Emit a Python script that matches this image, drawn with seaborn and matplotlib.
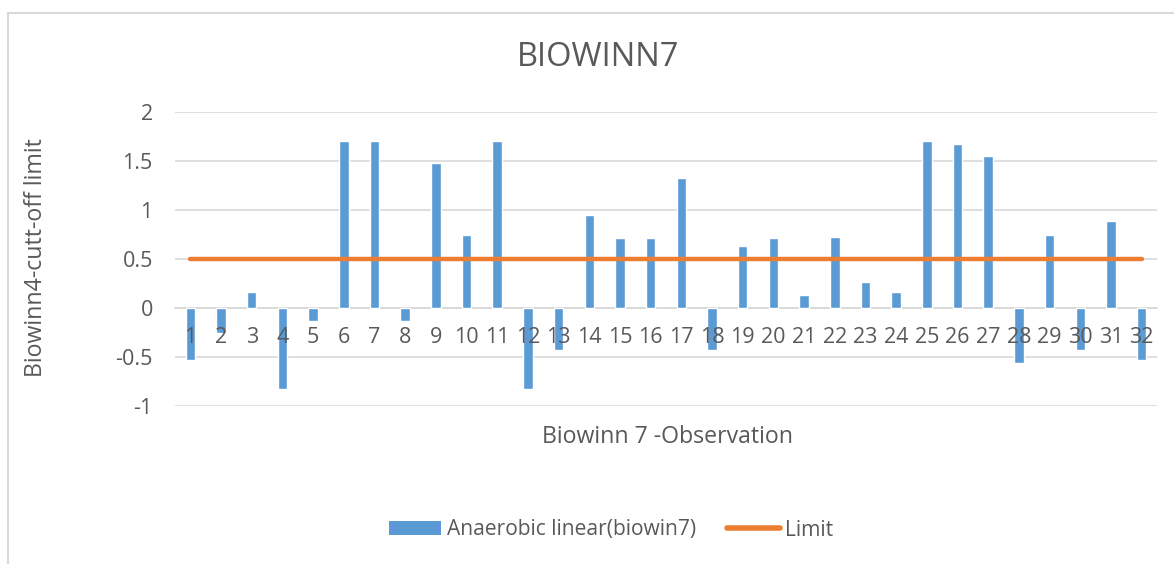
import matplotlib
matplotlib.use("Agg")
import matplotlib.pyplot as plt
from matplotlib.lines import Line2D
from matplotlib.patches import Patch
import numpy as np
import pandas as pd
import seaborn as sns

# Observations and their anaerobic linear (BIOWIN7) scores
observations = [str(i) for i in range(1, 33)]
biowin7 = [-0.53, -0.26, 0.16, -0.83, -0.13, 1.70, 1.70, -0.13, 1.48, 0.74,
           1.70, -0.83, -0.43, 0.95, 0.71, 0.71, 1.33, -0.43, 0.63, 0.71,
           0.13, 0.72, 0.26, 0.16, 1.70, 1.67, 1.55, -0.56, 0.74, -0.43,
           0.89, -0.53]
limit = [0.5] * 32
y_ticks = [-1, -0.5, 0, 0.5, 1, 1.5, 2]
y_tick_labels = ["-1", "-0.5", "0", "0.5", "1", "1.5", "2"]

BLUE = "#5B9BD5"
ORANGE = "#ED7D31"
TEXT = "#595959"
GRID = "#D9D9D9"

sns.set_theme(style="white")
plt.rcParams["font.family"] = ["Open Sans", "DejaVu Sans"]

df = pd.DataFrame({"obs": observations, "score": biowin7, "limit": limit})
df["pos"] = np.arange(len(df))

fig = plt.figure(figsize=(11.74, 5.64), dpi=100)
ax = fig.add_axes([175 / 1174, 1 - 405.7 / 564, (1157 - 175) / 1174, (405.7 - 112) / 564])

sns.barplot(data=df, x="obs", y="score", order=observations, color=BLUE,
            width=0.31, saturation=1, ax=ax, zorder=2)
sns.lineplot(data=df, x="pos", y="limit", color=ORANGE, linewidth=3.2,
             ax=ax, zorder=3, solid_capstyle="round")

ax.set_xlim(-0.5, len(observations) - 0.5)
ax.set_ylim(-1, 2)
ax.set_yticks(y_ticks)
ax.set_yticklabels(y_tick_labels)
ax.set_xticks(df["pos"])
ax.set_xticklabels(observations)
ax.yaxis.grid(True, color=GRID, linewidth=1.2)
ax.xaxis.grid(False)
# horizontal gridlines stay behind the bars, category labels sit on top
ax.yaxis.set_zorder(0.5)
ax.xaxis.set_zorder(5)

for side in ["top", "right", "left"]:
    ax.spines[side].set_visible(False)
ax.spines["bottom"].set_position(("data", 0))
ax.spines["bottom"].set_color(GRID)
ax.spines["bottom"].set_linewidth(1.2)
ax.spines["bottom"].set_zorder(1)

ax.tick_params(axis="x", length=0, pad=14, labelsize=15.5, labelcolor=TEXT)
ax.tick_params(axis="y", length=0, pad=16, labelsize=15.5, labelcolor=TEXT)

ax.set_xlabel("")
ax.set_ylabel("")

fig.text(598 / 1174, 1 - 58 / 564, "BIOWINN7", ha="center", va="center",
         fontsize=23.5, color=TEXT)
fig.text(667 / 1174, 1 - 437 / 564, "Biowinn 7 -Observation", ha="center",
         va="center", fontsize=16.7, color=TEXT)
fig.text(36 / 1174, 1 - 258 / 564, "Biowinn4-cutt-off limit", ha="center",
         va="center", rotation=90, fontsize=16.7, color=TEXT)

handles = [Patch(facecolor=BLUE, edgecolor="none"),
           Line2D([0], [0], color=ORANGE, linewidth=4, solid_capstyle="round")]
fig.legend(handles, ["Anaerobic linear(biowin7)", "Limit"],
           loc="center", bbox_to_anchor=(611 / 1174, 1 - 530 / 564),
           ncol=2, frameon=False, fontsize=15.1, labelcolor=TEXT,
           handlelength=2.5, handleheight=0.62, handletextpad=0.25,
           columnspacing=1.5)

# Chart frame (top and left edges)
fig.add_artist(Line2D([8 / 1174, 8 / 1174], [0, 1 - 13 / 564],
                      transform=fig.transFigure, color=GRID, linewidth=1.5))
fig.add_artist(Line2D([8 / 1174, 1], [1 - 13 / 564, 1 - 13 / 564],
                      transform=fig.transFigure, color=GRID, linewidth=1.5))

fig.savefig("out.png", dpi=100, facecolor="white")
